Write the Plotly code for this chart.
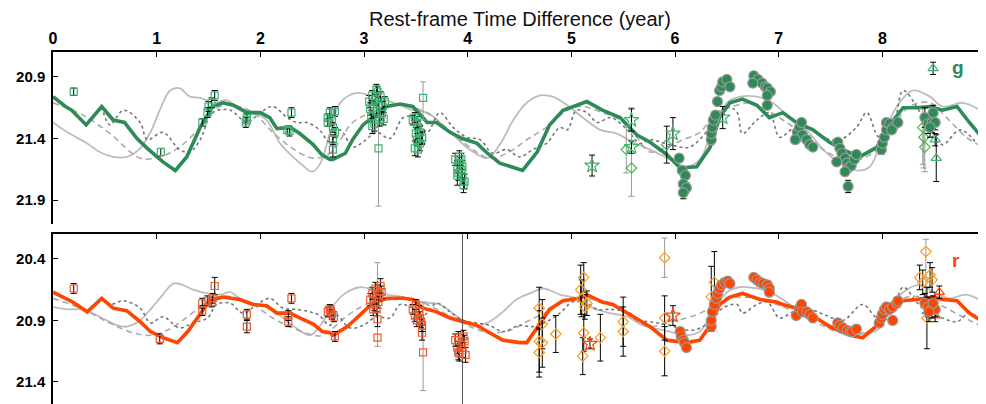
import plotly.graph_objects as go

# ---------------- axis tick values ----------------
year_ticks = [0, 1, 2, 3, 4, 5, 6, 7, 8, 9]
obs_ticks = [0.125, 1.245, 2.372, 3.500, 4.619, 5.738, 6.876, 7.994]
g_ticks = [20.9, 21.4, 21.9]
r_ticks = [20.4, 20.9, 21.4]
g_range = [22.095, 20.697]
r_range = [21.579, 20.197]
x_range = [0, 9]

# ---------------- model curves (year, mag) ----------------
g_model = [(0.00,21.06),(0.12,21.14),(0.18,21.17),(0.32,21.29),(0.47,21.14),(0.58,21.25),(0.69,21.27),(0.81,21.40),
           (0.91,21.48),(1.06,21.59),(1.18,21.66),(1.29,21.55),(1.42,21.31),(1.54,21.14),(1.64,21.11),(1.74,21.13),
           (1.87,21.19),(2.00,21.19),(2.09,21.23),(2.16,21.32),(2.29,21.31),(2.38,21.36),(2.51,21.45),(2.59,21.53),
           (2.67,21.57),(2.70,21.57),(2.82,21.52),(2.89,21.41),(2.99,21.29),(3.11,21.21),(3.22,21.14),(3.35,21.12),
           (3.47,21.14),(3.61,21.27),(3.70,21.27),(3.83,21.35),(3.95,21.40),(4.09,21.44),(4.19,21.52),(4.31,21.60),
           (4.44,21.64),(4.53,21.66),(4.67,21.51),(4.79,21.29),(4.92,21.17),(5.05,21.13),(5.15,21.10),(5.30,21.17),
           (5.47,21.23),(5.63,21.37),(5.76,21.43),(5.92,21.53),(6.05,21.64),(6.21,21.63),(6.34,21.47),(6.43,21.23),
           (6.53,21.11),(6.65,21.08),(6.79,21.13),(6.91,21.23),(7.04,21.19),(7.17,21.27),(7.33,21.33),(7.49,21.43),
           (7.62,21.49),(7.78,21.55),(7.95,21.47),(8.07,21.29),(8.20,21.15),(8.33,21.15),(8.46,21.14),(8.58,21.17),
           (8.72,21.14),(8.84,21.27),(8.97,21.40)]
g_solid = [(0.00,21.27),(0.14,21.35),(0.33,21.44),(0.45,21.51),(0.58,21.55),(0.71,21.55),(0.84,21.48),(0.94,21.35),
           (1.03,21.17),(1.13,21.01),(1.22,20.99),(1.32,21.06),(1.42,21.07),(1.54,21.11),(1.68,21.09),(1.77,21.14),
           (1.93,21.19),(2.06,21.25),(2.19,21.44),(2.29,21.53),(2.41,21.62),(2.50,21.67),(2.58,21.60),(2.67,21.36),
           (2.77,21.11),(2.93,21.03),(3.06,21.05),(3.22,21.09),(3.35,21.13),(3.47,21.17),(3.61,21.19),(3.73,21.27),
           (3.86,21.37),(4.02,21.49),(4.19,21.56),(4.31,21.45),(4.44,21.25),(4.57,21.11),(4.70,21.05),(4.82,21.06),
           (4.96,21.13),(5.11,21.23),(5.28,21.33),(5.44,21.36),(5.59,21.43),(5.76,21.49),(5.95,21.57),(6.11,21.63),
           (6.24,21.57),(6.37,21.31),(6.50,21.11),(6.63,21.06),(6.79,21.06),(6.94,21.11),(7.11,21.23),(7.27,21.33),
           (7.43,21.49),(7.59,21.60),(7.75,21.66),(7.88,21.63),(8.00,21.39),(8.14,21.14),(8.29,21.01),(8.46,21.06),
           (8.58,21.14),(8.78,21.11),(8.94,21.17)]
g_dash = [(0.00,21.11),(0.29,21.21),(0.55,21.36),(0.84,21.56),(1.03,21.55),(1.22,21.47),(1.42,21.31),(1.61,21.14),
          (1.74,21.13),(1.93,21.19),(2.12,21.35),(2.31,21.48),(2.51,21.56),(2.67,21.52),(2.89,21.27),(3.06,21.19),
          (3.22,21.13),(3.41,21.13),(3.64,21.21),(3.86,21.36),(4.05,21.49),(4.21,21.56),(4.38,21.52),(4.57,21.41),
          (4.76,21.31),(4.96,21.17),(5.11,21.14),(5.30,21.19),(5.47,21.25),(5.63,21.39),(5.76,21.51),(5.92,21.47),
          (6.08,21.41),(6.24,21.35),(6.40,21.19),(6.56,21.14),(6.72,21.11),(6.89,21.17),(7.04,21.25),(7.23,21.36),
          (7.43,21.49),(7.62,21.57),(7.78,21.57),(7.95,21.49),(8.10,21.31),(8.26,21.14),(8.46,21.11),(8.62,21.23),
          (8.81,21.39),(8.97,21.47)]
g_dot = [(0.47,21.14),(0.55,21.29),(0.68,21.17),(0.84,21.27),(0.91,21.41),(1.06,21.35),(1.22,21.49),(1.32,21.51),
         (1.42,21.41),(1.54,21.19),(1.71,21.17),(1.87,21.27),(2.00,21.19),(2.12,21.14),(2.26,21.23),(2.35,21.27),
         (2.45,21.27),(2.57,21.33),(2.67,21.43),(2.77,21.33),(2.89,21.47),(2.99,21.43),(3.12,21.35),(3.25,21.40),
         (3.38,21.23),(3.51,21.23),(3.61,21.35),(3.73,21.19),(3.86,21.31),(3.99,21.39),(4.12,21.41),(4.24,21.52),
         (4.38,21.49),(4.50,21.55),(4.63,21.49),(4.76,21.44),(4.89,21.31),(4.96,21.33),(5.05,21.17),(5.15,21.19),
         (5.25,21.27),(5.38,21.23),(5.54,21.33),(5.66,21.44),(5.76,21.41),(5.95,21.45),(6.14,21.47),(6.34,21.31),
         (6.50,21.14),(6.60,21.19),(6.65,21.36),(6.79,21.25),(6.91,21.19),(7.01,21.39),(7.14,21.32),(7.30,21.31),
         (7.43,21.39),(7.59,21.41),(7.75,21.31),(7.85,21.19),(7.97,21.39),(8.10,21.31),(8.20,21.01),(8.33,21.14),
         (8.46,21.36),(8.58,21.45),(8.75,21.33),(8.91,21.44)]

r_model = [(0.00,20.67),(0.14,20.73),(0.19,20.75),(0.33,20.83),(0.47,20.72),(0.58,20.80),(0.71,20.82),(0.84,20.91),
           (0.94,20.99),(1.06,21.04),(1.20,21.08),(1.30,20.99),(1.42,20.84),(1.51,20.74),(1.64,20.71),(1.80,20.73),
           (1.93,20.77),(2.06,20.78),(2.16,20.84),(2.29,20.84),(2.38,20.88),(2.51,20.93),(2.60,20.99),(2.67,21.00),
           (2.70,21.02),(2.84,20.95),(2.93,20.88),(3.03,20.80),(3.12,20.75),(3.22,20.72),(3.38,20.72),(3.47,20.73),
           (3.57,20.80),(3.70,20.83),(3.83,20.88),(3.95,20.91),(4.09,20.94),(4.21,21.00),(4.34,21.06),(4.50,21.08),
           (4.57,21.08),(4.67,20.96),(4.79,20.81),(4.92,20.74),(5.08,20.72),(5.15,20.69),(5.30,20.75),(5.40,20.77),
           (5.54,20.84),(5.66,20.90),(5.76,20.95),(5.92,21.06),(6.11,21.08),(6.24,21.06),(6.34,20.94),(6.43,20.77),
           (6.53,20.71),(6.65,20.68),(6.82,20.73),(6.98,20.75),(7.04,20.77),(7.17,20.80),(7.33,20.86),(7.49,20.95),
           (7.69,21.02),(7.81,21.04),(7.95,20.94),(8.07,20.83),(8.20,20.74),(8.33,20.73),(8.49,20.71),(8.58,20.73),
           (8.72,20.74),(8.84,20.84),(8.97,20.91)]
r_solid = [(0.00,20.79),(0.14,20.81),(0.29,20.81),(0.45,20.87),(0.62,20.94),(0.71,20.95),(0.84,20.90),(0.94,20.81),
           (1.06,20.69),(1.16,20.60),(1.25,20.61),(1.35,20.65),(1.49,20.68),(1.61,20.69),(1.71,20.67),(1.80,20.72),
           (1.93,20.76),(2.06,20.79),(2.19,20.86),(2.31,20.94),(2.48,21.02),(2.57,20.95),(2.67,20.82),(2.80,20.69),
           (2.96,20.63),(3.09,20.65),(3.22,20.69),(3.38,20.71),(3.54,20.75),(3.73,20.77),(3.92,20.88),(4.09,20.94),
           (4.21,20.91),(4.34,20.83),(4.47,20.73),(4.60,20.68),(4.73,20.64),(4.89,20.69),(5.05,20.72),(5.21,20.80),
           (5.37,20.84),(5.54,20.87),(5.69,20.94),(5.95,20.99),(6.11,21.02),(6.24,20.99),(6.36,20.83),(6.50,20.67),
           (6.62,20.63),(6.79,20.64),(6.94,20.68),(7.11,20.77),(7.23,20.84),(7.43,20.91),(7.62,20.98),(7.75,21.00),
           (7.95,20.98),(8.07,20.80),(8.20,20.67),(8.36,20.61),(8.52,20.68),(8.65,20.72),(8.81,20.69),(8.97,20.75)]
r_dash = [(0.00,20.72),(0.29,20.81),(0.52,20.91),(0.77,21.00),(0.94,21.02),(1.10,20.98),(1.25,20.90),(1.42,20.79),
          (1.58,20.71),(1.74,20.71),(1.93,20.77),(2.12,20.88),(2.31,20.96),(2.51,21.02),(2.60,21.02),(2.89,20.83),
          (3.09,20.75),(3.28,20.73),(3.47,20.73),(3.66,20.79),(3.86,20.88),(4.05,20.96),(4.21,21.00),(4.41,20.98),
          (4.57,20.91),(4.76,20.83),(4.96,20.73),(5.11,20.71),(5.30,20.76),(5.47,20.80),(5.63,20.90),(5.76,20.95),
          (5.95,20.91),(6.11,20.88),(6.27,20.83),(6.46,20.72),(6.62,20.71),(6.79,20.72),(6.98,20.77),(7.18,20.84),
          (7.37,20.92),(7.56,20.99),(7.72,21.02),(7.88,20.98),(8.04,20.83),(8.20,20.72),(8.39,20.71),(8.55,20.77),
          (8.75,20.86),(8.94,20.94)]
r_dot = [(0.48,20.72),(0.55,20.77),(0.68,20.74),(0.84,20.80),(0.94,20.92),(1.06,20.87),(1.22,20.96),(1.35,20.92),
         (1.49,20.88),(1.58,20.77),(1.71,20.76),(1.83,20.84),(1.97,20.77),(2.09,20.72),(2.22,20.80),(2.35,20.81),
         (2.48,20.83),(2.57,20.86),(2.67,20.94),(2.74,20.86),(2.86,20.96),(2.99,20.94),(3.12,20.87),(3.25,20.88),
         (3.35,20.77),(3.47,20.80),(3.57,20.86),(3.70,20.76),(3.83,20.83),(3.95,20.90),(4.09,20.92),(4.21,20.94),
         (4.34,20.99),(4.50,20.94),(4.63,20.95),(4.76,20.91),(4.89,20.84),(5.01,20.75),(5.15,20.76),(5.25,20.81),
         (5.37,20.81),(5.54,20.83),(5.66,20.90),(5.76,20.91),(5.95,20.94),(6.17,20.98),(6.34,20.91),(6.46,20.80),
         (6.60,20.77),(6.65,20.84),(6.79,20.77),(6.89,20.75),(7.01,20.88),(7.14,20.83),(7.30,20.81),(7.46,20.86),
         (7.62,20.90),(7.81,20.77),(7.95,20.88),(8.07,20.88),(8.20,20.63),(8.33,20.75),(8.43,20.83),(8.55,20.87),
         (8.72,20.91),(8.84,20.84),(8.97,20.91)]

# ---------------- observations (year, mag, err) ----------------
g_squares = [(0.20,21.02,0.03),(1.04,21.51,0.03),(1.44,21.27,0.03),(1.49,21.19,0.04),(1.50,21.14,0.04),(1.53,21.11,0.04),
             (1.56,21.05,0.04),(1.87,21.23,0.03),(1.87,21.25,0.03),(1.86,21.27,0.04),(2.26,21.33,0.03),(2.30,21.19,0.04),
             (2.28,21.34,0.04),(2.65,21.23,0.03),(2.65,21.27,0.03),(2.67,21.19,0.04),(2.69,21.25,0.04),(2.70,21.31,0.04),
             (2.72,21.35,0.04),(2.70,21.41,0.04),(2.70,21.49,0.06),(2.72,21.18,0.04),
             (3.05,21.10,0.05),(3.07,21.22,0.05),(3.08,21.05,0.04),(3.09,21.15,0.05),(3.10,21.28,0.06),(3.11,21.08,0.04),
             (3.12,21.18,0.05),(3.13,21.02,0.04),(3.14,21.12,0.05),(3.15,21.25,0.05),(3.16,21.06,0.04),(3.17,21.20,0.05),
             (3.18,21.14,0.04),(3.19,21.24,0.05),(3.08,21.30,0.06),(3.12,21.00,0.04),(3.20,21.10,0.04),(3.06,21.16,0.05),
             (3.49,21.23,0.04),(3.51,21.27,0.05),(3.52,21.31,0.05),(3.54,21.35,0.05),(3.56,21.39,0.05),(3.51,21.41,0.05),
             (3.54,21.44,0.06),(3.49,21.48,0.06),(3.52,21.49,0.06),(3.56,21.40,0.05),(3.47,21.25,0.04),(3.50,21.36,0.05),
             (3.88,21.57,0.05),(3.90,21.63,0.05),(3.91,21.68,0.06),(3.92,21.60,0.05),(3.94,21.66,0.06),(3.95,21.71,0.06),
             (3.97,21.75,0.06),(3.90,21.70,0.08),(3.94,21.57,0.05),(3.95,21.63,0.05),(3.96,21.78,0.06),(3.92,21.55,0.05)]
g_squares_wide = [(3.14,21.48,0.27,0.47),(3.57,21.07,0.13,0.18)]   # (year, mag, err_bright, err_faint)
g_circles = [(6.04,21.56,0.03),(6.07,21.66,0.03),(6.10,21.70,0.03),(6.08,21.77,0.03),(6.11,21.80,0.04),(6.08,21.84,0.05),
             (6.35,21.41,0.04),(6.35,21.36,0.03),(6.36,21.31,0.03),(6.37,21.25,0.03),(6.39,21.21,0.03),(6.41,21.10,0.03),
             (6.43,21.01,0.03),(6.45,20.98,0.03),(6.46,20.94,0.03),(6.50,20.92,0.03),(6.53,20.98,0.03),
             (6.76,20.89,0.03),(6.80,20.92,0.03),(6.84,20.95,0.03),(6.87,20.98,0.03),(6.89,20.99,0.03),(6.92,21.02,0.03),
             (6.89,21.05,0.03),(6.89,21.13,0.03),(6.75,20.95,0.03),
             (7.17,21.40,0.03),(7.18,21.35,0.03),(7.20,21.31,0.03),(7.22,21.27,0.03),(7.23,21.37,0.03),(7.27,21.41,0.03),
             (7.30,21.45,0.03),(7.33,21.47,0.03),(7.16,21.41,0.03),
             (7.57,21.43,0.03),(7.59,21.48,0.03),(7.61,21.52,0.03),(7.64,21.56,0.03),(7.66,21.60,0.03),(7.67,21.64,0.03),
             (7.70,21.62,0.03),(7.73,21.57,0.03),(7.75,21.53,0.03),(7.56,21.59,0.03),(7.64,21.67,0.03),(7.67,21.79,0.05),
             (7.99,21.49,0.04),(8.00,21.44,0.03),(8.02,21.39,0.03),(8.04,21.33,0.03),(8.04,21.27,0.03),(8.07,21.28,0.03),
             (8.10,21.31,0.03),(8.15,21.27,0.03),(8.09,21.33,0.03),
             (8.41,21.23,0.08),(8.44,21.28,0.08),(8.48,21.27,0.08),(8.51,21.27,0.06),(8.49,21.19,0.06),(8.46,21.31,0.08)]
g_stars = [(5.20,21.62,0.085),(5.58,21.25,0.09),(5.58,21.47,0.05),(5.98,21.36,0.13),(6.46,21.23,0.09)]
g_diamonds = [(5.92,21.45,0.15)]
g_diamonds_wide = [(5.53,21.49,0.19,0.19),(5.58,21.64,0.49,0.23),(8.39,21.31,0.15,0.30),(8.40,21.39,0.15,0.25),
                   (8.41,21.47,0.20,0.20)]
g_triangles = [(8.49,20.83,0.05),(8.52,21.56,0.19),(8.51,21.41,0.05)]

r_squares = [(0.20,20.64,0.04),(1.03,21.05,0.04),(1.44,20.76,0.04),(1.44,20.82,0.04),(1.49,20.74,0.04),(1.53,20.75,0.04),
             (1.54,20.72,0.04),(1.56,20.62,0.07),(1.87,20.85,0.04),(1.87,20.95,0.05),(2.27,20.91,0.04),(2.30,20.72,0.04),
             (2.27,20.86,0.04),(2.65,20.83,0.04),(2.67,20.81,0.04),(2.69,20.85,0.04),(2.71,20.87,0.04),(2.68,20.82,0.04),
             (2.72,21.03,0.04),
             (3.06,20.73,0.05),(3.08,20.68,0.05),(3.10,20.77,0.05),(3.11,20.64,0.05),(3.12,20.72,0.05),(3.12,20.81,0.05),
             (3.13,20.66,0.05),(3.14,20.75,0.05),(3.15,20.69,0.05),(3.17,20.67,0.05),(3.09,20.81,0.05),(3.16,20.62,0.06),
             (3.13,20.89,0.06),
             (3.47,20.81,0.04),(3.49,20.86,0.05),(3.51,20.90,0.05),(3.53,20.83,0.05),(3.54,20.88,0.05),(3.56,20.94,0.05),
             (3.50,20.77,0.04),(3.55,20.91,0.05),(3.56,21.00,0.06),
             (3.88,21.06,0.05),(3.90,21.12,0.05),(3.91,21.04,0.05),(3.92,21.17,0.06),(3.94,21.10,0.05),(3.95,21.14,0.06),
             (3.97,21.07,0.05),(3.98,21.18,0.06),(3.91,21.16,0.06),(3.96,21.03,0.05)]
r_squares_wide = [(3.13,21.04,0.61,0.07),(3.57,21.16,0.41,0.31)]
r_circles = [(6.05,20.99,0.03),(6.06,21.03,0.03),(6.08,21.06,0.03),(6.09,21.08,0.03),(6.11,21.12,0.03),
             (6.35,20.95,0.04),(6.35,20.90,0.03),(6.36,20.83,0.03),(6.38,20.77,0.03),(6.40,20.72,0.03),(6.41,20.68,0.03),
             (6.43,20.64,0.03),(6.45,20.61,0.03),(6.48,20.59,0.03),(6.51,20.58,0.03),(6.53,20.60,0.03),
             (6.76,20.55,0.03),(6.79,20.57,0.03),(6.82,20.59,0.03),(6.85,20.60,0.03),(6.89,20.61,0.03),(6.91,20.64,0.03),
             (6.91,20.67,0.03),
             (7.17,20.86,0.03),(7.20,20.80,0.03),(7.22,20.77,0.03),(7.23,20.83,0.03),(7.27,20.83,0.03),(7.30,20.85,0.03),
             (7.33,20.88,0.03),
             (7.57,20.92,0.03),(7.59,20.94,0.03),(7.62,20.96,0.03),(7.66,20.98,0.03),(7.69,20.99,0.03),(7.71,20.99,0.03),
             (7.75,20.97,0.03),
             (7.97,20.92,0.03),(7.99,20.88,0.03),(8.00,20.85,0.03),(8.02,20.81,0.03),(8.04,20.79,0.03),(8.07,20.81,0.03),
             (8.10,20.79,0.03),(8.14,20.76,0.03),(8.15,20.74,0.03),(8.10,20.90,0.03),
             (8.41,20.76,0.08),(8.44,20.79,0.08),(8.48,20.80,0.08),(8.51,20.81,0.06),(8.49,20.76,0.06),(8.45,20.83,0.08)]
r_stars = [(5.18,21.09,0.04),(5.98,20.86,0.08)]
r_diamonds = [(4.69,20.80,0.17),(4.69,21.07,0.25),(4.69,21.16,0.20),(4.72,20.93,0.20),(4.72,21.08,0.20),
              (4.85,21.01,0.15),(5.09,20.65,0.20),(5.10,20.72,0.15),(5.12,20.55,0.12),(5.13,20.79,0.10),
              (5.15,20.76,0.10),(5.12,21.00,0.15),(5.11,21.19,0.15),(5.28,21.04,0.19),(5.50,20.91,0.20),
              (5.50,20.99,0.20),(5.90,20.88,0.18),(5.90,21.15,0.20),(6.38,20.59,0.25),(6.35,20.71,0.25),
              (8.36,20.55,0.10),(8.39,20.59,0.10),(8.46,20.53,0.10),(8.48,20.57,0.10),(8.43,20.88,0.25)]
r_diamonds_wide = [(5.90,20.39,0.16,0.16),(8.42,20.34,0.10,0.44)]
r_triangles = [(8.55,20.67,0.05),(8.51,20.86,0.05)]
r_marker_line_x = 3.95

# ---------------- figure ----------------
FONT = "Liberation Sans, Arial, Helvetica, sans-serif"
G_DARK, G_LIGHT = "#2e8b57", "#3cb371"
R_DARK, R_SQ, R_DIAM = "#ff4500", "#ee5a2c", "#ff9a1a"

fig = go.Figure()


def add_line(pts, xa, ya, color, width, dash="solid", shape="linear"):
    xs, ys = zip(*pts)
    fig.add_trace(go.Scatter(x=xs, y=ys, xaxis=xa, yaxis=ya, mode="lines",
                             line=dict(color=color, width=width, dash=dash, shape=shape),
                             hoverinfo="skip"))


def add_pts(pts, xa, ya, symbol, color, size, ecolor="black", fill=None, edge=None, wide=False, lw=1.2):
    if not pts:
        return
    cols = list(zip(*pts))
    if wide:
        err = dict(type="data", symmetric=False, array=list(cols[3]), arrayminus=list(cols[2]),
                   color=ecolor, thickness=1, width=3)
    else:
        err = dict(type="data", array=list(cols[2]), color=ecolor, thickness=1, width=3)
    marker = dict(symbol=symbol, size=size, color=fill if fill else color,
                  line=dict(color=edge if edge else color, width=lw))
    fig.add_trace(go.Scatter(x=cols[0], y=cols[1], xaxis=xa, yaxis=ya, mode="markers",
                             marker=marker, error_y=err, hoverinfo="skip"))


for (xa, ya, model, solid, dash, dot, mcol) in [("x", "y", g_model, g_solid, g_dash, g_dot, G_DARK),
                                                  ("x2", "y2", r_model, r_solid, r_dash, r_dot, R_DARK)]:
    add_line(solid, xa, ya, "#bdbdbd", 1.8, shape="spline")
    add_line(dash, xa, ya, "#ababab", 1.6, dash="6px,4px", shape="spline")
    add_line(dot, xa, ya, "#767676", 1.6, dash="dot", shape="spline")
    add_line(model, xa, ya, mcol, 3.6)

# g observations
add_pts(g_squares_wide, "x", "y", "square-open", G_LIGHT, 7, ecolor="#9a9a9a", wide=True)
add_pts(g_diamonds_wide, "x", "y", "diamond-open", "#44bb44", 8, ecolor="#9a9a9a", wide=True)
add_pts(g_squares, "x", "y", "square-open", G_LIGHT, 7)
add_pts(g_diamonds, "x", "y", "diamond-open", G_LIGHT, 8)
add_pts(g_stars, "x", "y", "star-open", G_LIGHT, 11)
add_pts(g_triangles, "x", "y", "triangle-up-open", G_LIGHT, 9)
add_pts(g_circles, "x", "y", "circle", G_DARK, 10, fill=G_DARK, edge="#9a9a9a", lw=1.2)

# r observations
fig.add_trace(go.Scatter(x=[r_marker_line_x, r_marker_line_x], y=[r_range[1], r_range[0]], xaxis="x2", yaxis="y2",
                         mode="lines", line=dict(color="#555555", width=1), hoverinfo="skip"))
add_pts(r_squares_wide, "x2", "y2", "square-open", R_SQ, 7, ecolor="#9a9a9a", wide=True)
add_pts(r_diamonds_wide, "x2", "y2", "diamond-open", R_DIAM, 8, ecolor="#9a9a9a", wide=True)
add_pts(r_squares, "x2", "y2", "square-open", R_SQ, 7)
add_pts(r_diamonds, "x2", "y2", "diamond-open", R_DIAM, 8)
add_pts(r_stars, "x2", "y2", "star-open", R_DARK, 11)
add_pts(r_triangles, "x2", "y2", "triangle-up-open", R_DARK, 9)
add_pts(r_circles, "x2", "y2", "circle", R_DARK, 10, fill=R_DARK, edge="#9a9a9a", lw=1.2)

axis_common = dict(showgrid=False, zeroline=False, showline=True, linecolor="black", linewidth=1.5,
                   automargin=False)
tick_font = dict(family=FONT, size=16, color="black", weight="bold")
ytick_font = dict(family=FONT, size=15, color="black", weight="bold")

# the page body has an 8px margin, so the figure is 8px smaller than the window
fig.update_layout(
    width=978, height=396,
    margin=dict(l=45, r=0, t=44, b=0, pad=0),
    paper_bgcolor="white", plot_bgcolor="white",
    showlegend=False,
    font=dict(family=FONT, color="black"),
    xaxis=dict(**axis_common, domain=[0, 1], anchor="y", side="top", range=x_range,
               tickmode="array", tickvals=year_ticks, ticks="inside", ticklen=5, tickcolor="black",
               tickfont=tick_font),
    xaxis3=dict(**axis_common, overlaying="x", anchor="y", side="bottom", range=x_range,
                tickmode="array", tickvals=obs_ticks, ticks="inside", ticklen=5, tickcolor="black",
                showticklabels=False),
    xaxis2=dict(**axis_common, domain=[0, 1], anchor="y2", side="top", range=x_range,
                tickmode="array", tickvals=year_ticks, ticks="inside", ticklen=5, tickcolor="black",
                showticklabels=False),
    xaxis4=dict(**axis_common, overlaying="x2", anchor="y2", side="bottom", range=x_range,
                tickmode="array", tickvals=obs_ticks, ticks="inside", ticklen=5, tickcolor="black",
                showticklabels=False),
    yaxis=dict(**axis_common, domain=[0.5114, 1], anchor="x", range=g_range,
               tickmode="array", tickvals=g_ticks, tickformat=".1f", ticks="inside", ticklen=5,
               tickcolor="black", tickfont=ytick_font, ticklabelstandoff=3),
    yaxis2=dict(**axis_common, domain=[0, 0.4830], anchor="x2", range=r_range,
                tickmode="array", tickvals=r_ticks, tickformat=".1f", ticks="inside", ticklen=5,
                tickcolor="black", tickfont=ytick_font, ticklabelstandoff=3),
    annotations=[
        dict(text="Rest-frame Time Difference (year)", xref="paper", yref="paper", x=0.5, y=1.095,
             xanchor="center", yanchor="middle", showarrow=False,
             font=dict(family=FONT, size=20, color="#111111")),
        dict(text="g", xref="x", yref="y", x=8.73, y=20.82, showarrow=False,
             font=dict(family=FONT, size=19, color=G_DARK, weight="bold")),
        dict(text="r", xref="x2", yref="y2", x=8.71, y=20.41, showarrow=False,
             font=dict(family=FONT, size=19, color=R_DARK, weight="bold")),
    ],
)

fig.write_html("out.html")
